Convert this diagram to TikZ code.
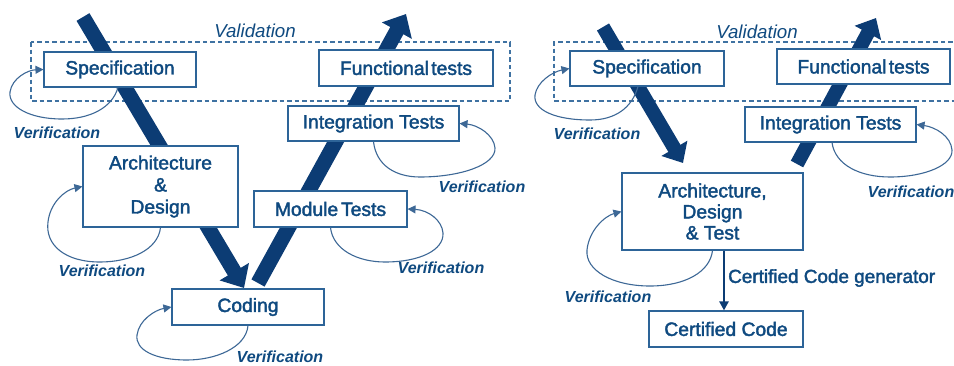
\documentclass[tikz,border=0pt]{standalone}
\usepackage{fontspec}
\setmainfont{Liberation Sans}
\newfontfamily\bxfont{Liberation Sans}[FakeBold=2]
\usetikzlibrary{arrows.meta}
\definecolor{navy}{HTML}{0C3C74}
\definecolor{txtblue}{HTML}{0F4A80}
\definecolor{boxblue}{HTML}{2D6498}
\definecolor{loopblue}{HTML}{3D6896}
\definecolor{dashblue}{HTML}{3F72A2}
\begin{document}
\begin{tikzpicture}[x=1pt,y=-1pt,
  bx/.style={draw=boxblue, line width=1.1pt, fill=white, text=txtblue,
    font=\bxfont\fontsize{19.3}{22}\selectfont, align=center, inner sep=0pt},
  vlabel/.style={text=txtblue, font=\bfseries\itshape\fontsize{16}{18}\selectfont, inner sep=0pt},
  vallabel/.style={text=txtblue, font=\itshape\fontsize{18.7}{22}\selectfont, inner sep=0pt},
  valbox/.style={draw=dashblue, line width=1.1pt, dash pattern=on 4.5pt off 3pt},
  bigarrow/.style={draw=navy, line width=15pt, -{Triangle[length=19pt,width=33pt]}},
  bigarrowR/.style={draw=navy, line width=14pt, -{Triangle[length=17pt,width=29pt]}},
  loopline/.style={draw=loopblue, line width=1.1pt, -{Triangle[length=8pt,width=8pt]}},
  carrow/.style={draw=navy, line width=2.5pt, -{Triangle[length=9pt,width=9pt]}},
  ctext/.style={text=txtblue, font=\bxfont\fontsize{18.9}{21}\selectfont, inner sep=0pt, anchor=west}
]
\useasboundingbox (0,0) rectangle (954,365);

% validation frames
\draw[valbox] (31,42) rectangle (510,101);
\draw[valbox] (960,42) -- (554,42) -- (554,101) -- (960,101);
\node[vallabel] (valL) at (255,31) {Validation};
\node[vallabel] (valR) at (757,32) {Validation};

% big arrows (left)
\coordinate (dL0) at (83,17);
\coordinate (dL1) at (244,288);
\coordinate (uL0) at (258,283);
\coordinate (uL1) at (406,14);
\draw[bigarrow] (dL0) -- (dL1);
\draw[bigarrow] (uL0) -- (uL1);
% big arrows (right)
\coordinate (dR0) at (603,27);
\coordinate (dR1) at (683,163);
\coordinate (uR0) at (797,164);
\coordinate (uR1) at (876,18);
\draw[bigarrowR] (dR0) -- (dR1);
\draw[bigarrowR] (uR0) -- (uR1);

% left boxes
\node[bx, minimum width=152pt, minimum height=35pt] (specL) at (120,69.5) {Specification};
\node[bx, minimum width=174pt, minimum height=36pt] (funcL) at (406,68) {Functional\hspace{0.12em}tests};
\node[bx, minimum width=171pt, minimum height=35pt] (intL) at (373.5,123.5) {Integration Tests};
\node[bx, minimum width=155pt, minimum height=81pt] (archL) at (160.5,186.5) {Architecture\\\&\\Design};
\node[bx, minimum width=153pt, minimum height=36pt] (modL) at (330.5,209) {Module\hspace{0.15em}Tests};
\node[bx, minimum width=152pt, minimum height=36pt] (codL) at (248,307) {Coding};

% right boxes
\node[bx, minimum width=154pt, minimum height=35pt] (specR) at (647,68.5) {Specification};
\node[bx, minimum width=173pt, minimum height=35pt] (funcR) at (863.5,66.5) {Functional\hspace{0.12em}tests};
\node[bx, minimum width=171pt, minimum height=35pt] (intR) at (830.5,124.5) {Integration Tests};
\node[bx, minimum width=181pt, minimum height=77pt, font=\bxfont\fontsize{19.3}{21}\selectfont] (archR) at (712.5,211.5) {Architecture,\\Design\\\& Test};
\node[bx, minimum width=154pt, minimum height=36pt] (certR) at (726,329) {Certified Code};

% certified code generator
\coordinate (cx) at (724,0);
\draw[carrow] (archR.south -| cx) -- (certR.north -| cx);
\node[ctext] (cgen) at (728,278) {Certified Code generator};

% verification loops
\draw[loopline] ([xshift=-2pt]specL.south) .. controls (112,108) and (90,119) .. (62,119)
  .. controls (30,119) and (8,107) .. (10,92) .. controls (12,78) and (28,70) .. (specL.west);
\draw[loopline] (archL.south) .. controls (158,250) and (130,262) .. (100,262)
  .. controls (65,262) and (45,245) .. (48,222) .. controls (50,203) and (65,190) .. (archL.west);
\draw[loopline] (codL.south) .. controls (246,348) and (215,360) .. (187,360)
  .. controls (155,360) and (135,350) .. (137,335) .. controls (139,320) and (155,310) .. (codL.west);
\draw[loopline] (modL.south) .. controls (333,250) and (358,262) .. (385,262)
  .. controls (420,262) and (444,250) .. (443,233) .. controls (442,220) and (428,210) .. (modL.east);
\draw[loopline] (intL.south) .. controls (376,165) and (395,177) .. (420,177)
  .. controls (460,177) and (496,165) .. (495,148) .. controls (494,135) and (478,125) .. (intL.east);
\draw[loopline] ([xshift=-9pt]specR.south) .. controls (632,108) and (615,120) .. (590,120)
  .. controls (555,120) and (533,110) .. (535,95) .. controls (537,82) and (552,72) .. (specR.west);
\draw[loopline] (archR.south) .. controls (710,272) and (685,286) .. (650,286)
  .. controls (612,286) and (585,270) .. (587,250) .. controls (589,230) and (605,216) .. (archR.west);
\draw[loopline] ([xshift=1.5pt]intR.south) .. controls (835,165) and (860,177) .. (890,177)
  .. controls (925,177) and (953,165) .. (952,150) .. controls (951,136) and (935,127) .. (intR.east);

% verification labels
\node[vlabel] (v1) at (57,133) {Verification};
\node[vlabel] (v2) at (102,271) {Verification};
\node[vlabel] (v3) at (280,357) {Verification};
\node[vlabel] (v4) at (441,268) {Verification};
\node[vlabel] (v5) at (482,187) {Verification};
\node[vlabel] (v6) at (597,134) {Verification};
\node[vlabel] (v7) at (608,297) {Verification};
\node[vlabel] (v8) at (911,192) {Verification};
\end{tikzpicture}
\end{document}
